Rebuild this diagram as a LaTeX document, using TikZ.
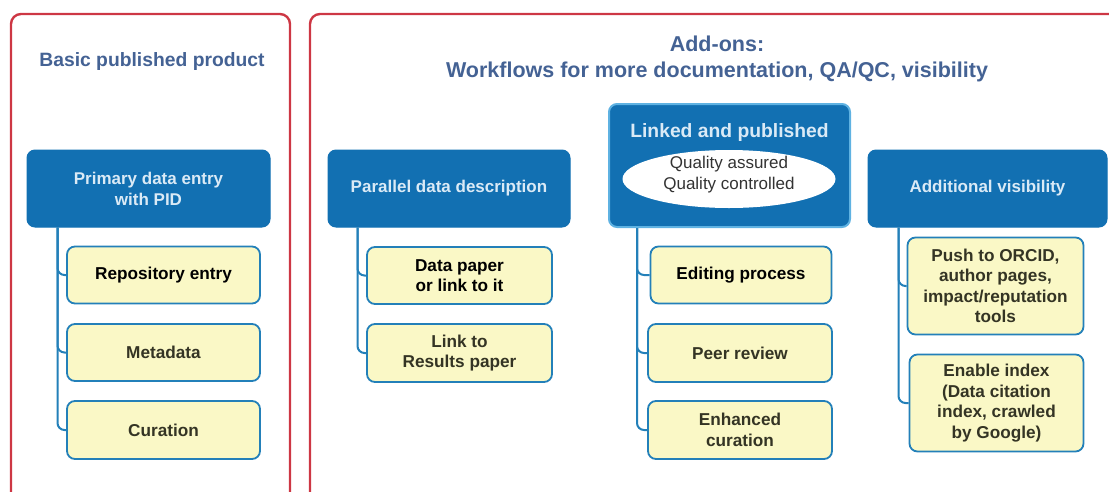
\documentclass[tikz,border=0pt]{standalone}
\usepackage{fontspec}
\setmainfont{Liberation Sans}
\usetikzlibrary{shapes.geometric}
\definecolor{panelred}{RGB}{205,55,68}
\definecolor{titleblue}{RGB}{68,98,148}
\definecolor{hdrfill}{RGB}{18,112,178}
\definecolor{hdrtext}{RGB}{218,234,246}
\definecolor{hdredge}{RGB}{95,178,226}
\definecolor{yfill}{RGB}{250,248,198}
\definecolor{yedge}{RGB}{35,128,185}
\definecolor{darktext}{RGB}{52,52,36}
\tikzset{
  panel/.style={draw=panelred, line width=2.4pt, rounded corners=10pt},
  ttl/.style={text=titleblue, font=\bfseries\fontsize{19.3}{24}\selectfont, align=center},
  hdr/.style={fill=hdrfill, draw=hdrfill, line width=1pt, rounded corners=8pt, text=hdrtext,
    font=\bfseries\fontsize{17}{21}\selectfont, align=center, inner sep=0pt},
  ybox/.style={fill=yfill, draw=yedge, line width=1.8pt, rounded corners=8pt,
    font=\bfseries\fontsize{17.2}{20.5}\selectfont, align=center, inner sep=0pt, text=darktext},
  conn/.style={draw=yedge, line width=2pt, rounded corners=7pt},
}
\begin{document}
\begin{tikzpicture}[x=1pt,y=-1pt]
\useasboundingbox (0,0) rectangle (1109,491);
\clip (0,0) rectangle (1109,491);
% panels
\draw[panel] (11,14) rectangle (290,530);
\draw[panel] (310,14) rectangle (1130,530);
% titles
\node[ttl] (t1) at (152,62) {Basic published product};
\node[ttl, font=\bfseries\fontsize{21.5}{26}\selectfont] (t2) at (717,59) {Add-ons:\\Workflows for more documentation, QA/QC, visibility};
% headers
\node[hdr, minimum width=243pt, minimum height=77pt] (h1) at (148.5,188.5) {Primary data entry\\with PID};
\node[hdr, minimum width=242pt, minimum height=77pt] (h2) at (449,188.5) {Parallel data description};
\node[hdr, draw=hdredge, line width=2pt, minimum width=241pt, minimum height=123pt] (h3) at (729.5,165.5) {};
\node[text=hdrtext, font=\bfseries\fontsize{19.3}{22}\selectfont] (h3t) at (729.5,133) {Linked and published};
\node[ellipse, fill=white, inner sep=0pt, minimum width=213pt, minimum height=58pt, align=center,
  font=\fontsize{17}{21.5}\selectfont, text=black!80] (qa) at (729,179) {};
\node[align=center, font=\fontsize{17}{21.5}\selectfont, text=black!80] (qat) at (729,174.5) {Quality assured\\Quality controlled};
\node[hdr, minimum width=239pt, minimum height=77pt] (h4) at (987.5,188.5) {Additional visibility};
% boxes column 1
\node[ybox, text=black, minimum width=193pt, minimum height=57pt] (b11) at (163.5,275) {Repository entry};
\node[ybox, minimum width=193pt, minimum height=57pt] (b12) at (163.5,352.5) {Metadata};
\node[ybox, minimum width=193pt, minimum height=58pt] (b13) at (163.5,430) {Curation};
% column 2
\node[ybox, text=black, minimum width=185pt, minimum height=57pt] (b21) at (459.5,275.5) {Data paper\\or link to it};
\node[ybox, minimum width=185pt, minimum height=58pt] (b22) at (459.5,353) {Link to\\Results paper};
% column 3
\node[ybox, text=black, minimum width=181pt, minimum height=57pt] (b31) at (741,275) {Editing process};
\node[ybox, minimum width=184pt, minimum height=58pt] (b32) at (740,353) {Peer review};
\node[ybox, minimum width=184pt, minimum height=58pt] (b33) at (740,430) {Enhanced\\curation};
% column 4
\node[ybox, minimum width=176pt, minimum height=97pt] (b41) at (995.5,286) {Push to ORCID,\\author pages,\\impact/reputation\\tools};
\node[ybox, minimum width=174pt, minimum height=97pt] (b42) at (996.5,403) {Enable index\\(Data citation\\index, crawled\\by Google)};
% connectors
\draw[conn] ([xshift=31pt]h1.south west) |- (b11.west);
\draw[conn] ([xshift=31pt]h1.south west) |- (b12.west);
\draw[conn] ([xshift=31pt]h1.south west) |- (b13.west);
\draw[conn] ([xshift=30pt]h2.south west) |- (b21.west);
\draw[conn] ([xshift=30pt]h2.south west) |- (b22.west);
\draw[conn] ([xshift=29pt]h3.south west) |- (b31.west);
\draw[conn] ([xshift=29pt]h3.south west) |- (b32.west);
\draw[conn] ([xshift=29pt]h3.south west) |- (b33.west);
\draw[conn] ([xshift=31pt]h4.south west) |- (b41.west);
\draw[conn] ([xshift=31pt]h4.south west) |- (b42.west);
\end{tikzpicture}
\end{document}
